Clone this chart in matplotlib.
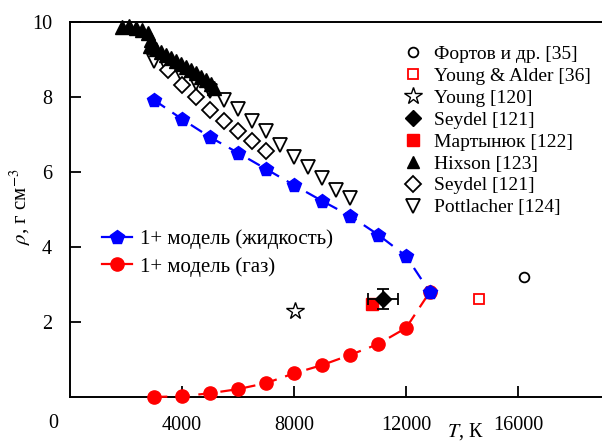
import matplotlib
matplotlib.use("Agg")
import matplotlib.pyplot as plt
from matplotlib.lines import Line2D

plt.rcParams['font.family'] = ['Liberation Serif', 'DejaVu Serif']
plt.rcParams['mathtext.fontset'] = 'stix'

# ---- data ----
liq_T = [3000, 4000, 5000, 6000, 7000, 8000, 9000, 10000, 11000, 12000, 12850]
liq_rho = [7.92, 7.41, 6.93, 6.51, 6.08, 5.65, 5.23, 4.83, 4.33, 3.76, 2.80]

gas_T = [3000, 4000, 5000, 6000, 7000, 8000, 9000, 10000, 11000, 12000, 12850]
gas_rho = [0.0, 0.02, 0.10, 0.21, 0.37, 0.63, 0.85, 1.12, 1.41, 1.84, 2.80]

fortov_T, fortov_rho = [16200], [3.20]
ya_T, ya_rho = [14600], [2.61]
young_T, young_rho = [8050], [2.29]
seydel1_T, seydel1_rho = [11180], [2.62]
seydel1_Terr, seydel1_rhoerr = [520], [0.27]
mart_T, mart_rho = [10790], [2.47]

hixson_T = [1860, 2110, 2360, 2570, 2790, 2890, 2860, 3070, 3250, 3430, 3610,
            3790, 3960, 4140, 4320, 4500, 4680, 4860, 5040, 5140]
hixson_rho = [9.87, 9.89, 9.84, 9.79, 9.71, 9.52, 9.36, 9.28, 9.20, 9.12, 9.04,
              8.96, 8.88, 8.80, 8.72, 8.64, 8.53, 8.45, 8.35, 8.24]

seydel2_T = [3500, 4000, 4500, 5000, 5500, 6000, 6500, 7000]
seydel2_rho = [8.72, 8.32, 8.00, 7.65, 7.36, 7.09, 6.83, 6.56]

pott_T = [3000, 3500, 4000, 4500, 5000, 5500, 6000, 6500, 7000, 7500, 8000,
          8500, 9000, 9500, 10000]
pott_rho = [8.96, 8.75, 8.56, 8.37, 8.16, 7.92, 7.68, 7.36, 7.09, 6.72, 6.40,
            6.13, 5.84, 5.52, 5.31]

x_ticks = [4000, 8000, 12000, 16000]
y_ticks = [2, 4, 6, 8, 10]

# ---- figure ----
fig = plt.figure(figsize=(6.02, 4.41), dpi=100)
ax = fig.add_axes([70/602, 44/441, 532/602, 375/441])
ax.set_xlim(0, 19000)
ax.set_ylim(0, 10)

blue = '#0000FF'
red = '#FF0000'

ax.plot(gas_T, gas_rho, color=red, lw=1.6, dashes=(6, 4), marker='o',
        ms=9.5, mec=red, mfc=red, clip_on=False, zorder=3)
ax.plot(liq_T, liq_rho, color=blue, lw=1.6, dashes=(6, 4), marker='p',
        ms=10, mec=blue, mfc=blue, clip_on=False, zorder=4)

ax.plot(pott_T, pott_rho, ls='none', marker='v', ms=10, mfc='white',
        mec='black', mew=1.3, zorder=3)
ax.plot(seydel2_T, seydel2_rho, ls='none', marker='D', ms=8, mfc='white',
        mec='black', mew=1.3, zorder=3)
ax.plot(hixson_T, hixson_rho, ls='none', marker='^', ms=9.5, mfc='black',
        mec='black', zorder=4, clip_on=False)

ax.plot(fortov_T, fortov_rho, ls='none', marker='o', ms=7, mfc='white',
        mec='black', mew=1.3)
ax.plot(ya_T, ya_rho, ls='none', marker='s', ms=7.5, mfc='white',
        mec=red, mew=1.3)
ax.plot(young_T, young_rho, ls='none', marker='*', ms=13, mfc='white',
        mec='black', mew=1.0)
ax.plot(mart_T, mart_rho, ls='none', marker='s', ms=8, mfc=red, mec=red, zorder=3)
ax.errorbar(seydel1_T, seydel1_rho, xerr=seydel1_Terr, yerr=seydel1_rhoerr,
            fmt='D', ms=8, mfc='black', mec='black', ecolor='black',
            elinewidth=1.3, capsize=4, capthick=1.3, zorder=4)

# ---- axes style ----
for s in ['left', 'top', 'bottom']:
    ax.spines[s].set_linewidth(1.4)
ax.spines['right'].set_visible(False)
ax.set_xticks(x_ticks)
ax.set_yticks(y_ticks)
ax.set_xticklabels([str(t) for t in x_ticks])
ax.set_yticklabels([str(t) for t in y_ticks])
ax.tick_params(axis='both', direction='in', length=8, width=1.3,
               labelsize=14.5, top=False, right=False)
ax.tick_params(axis='x', pad=14)
ax.tick_params(axis='y', pad=13)

fig.text(53/602, 1 - 423/441, '0', fontsize=14.5, ha='center', va='center')
fig.text(465/602, 1 - 432/441, r'$T$, К', fontsize=14.5, ha='center', va='center')
fig.text(20/602, 1 - 207/441, r'$\rho$, г см$^{-3}$', fontsize=15,
         rotation=90, ha='center', va='center')

# ---- legends ----
h_right = [
    Line2D([], [], ls='none', marker='o', ms=7, mfc='white', mec='black', mew=1.3),
    Line2D([], [], ls='none', marker='s', ms=7.5, mfc='white', mec=red, mew=1.3),
    Line2D([], [], ls='none', marker='*', ms=13, mfc='white', mec='black', mew=1.0),
    Line2D([], [], ls='none', marker='D', ms=8, mfc='black', mec='black'),
    Line2D([], [], ls='none', marker='s', ms=8, mfc=red, mec=red),
    Line2D([], [], ls='none', marker='^', ms=9, mfc='black', mec='black'),
    Line2D([], [], ls='none', marker='D', ms=8, mfc='white', mec='black', mew=1.3),
    Line2D([], [], ls='none', marker='v', ms=10, mfc='white', mec='black', mew=1.3),
]
l_right = ['Фортов и др. [35]', 'Young & Alder [36]', 'Young [120]',
           'Seydel [121]', 'Мартынюк [122]', 'Hixson [123]', 'Seydel [121]',
           'Pottlacher [124]']
leg1 = ax.legend(h_right, l_right, loc='upper left',
                 bbox_to_anchor=(403.5/602, 1 - 45.5/441),
                 bbox_transform=fig.transFigure, frameon=False, fontsize=14,
                 handlelength=1.0, handletextpad=0.58, labelspacing=0.22,
                 borderpad=0, borderaxespad=0)
ax.add_artist(leg1)

h_left = [
    Line2D([], [], color=blue, lw=1.6, marker='p', ms=10, mfc=blue, mec=blue),
    Line2D([], [], color=red, lw=1.6, marker='o', ms=9.5, mfc=red, mec=red),
]
l_left = ['1+ модель (жидкость)', '1+ модель (газ)']
ax.legend(h_left, l_left, loc='upper left',
          bbox_to_anchor=(102/602, 1 - 229.5/441),
          bbox_transform=fig.transFigure, frameon=False, fontsize=15,
          handlelength=1.44, handletextpad=0.38, labelspacing=0.37,
          borderpad=0, borderaxespad=0)

fig.savefig('out.png', dpi=100)
